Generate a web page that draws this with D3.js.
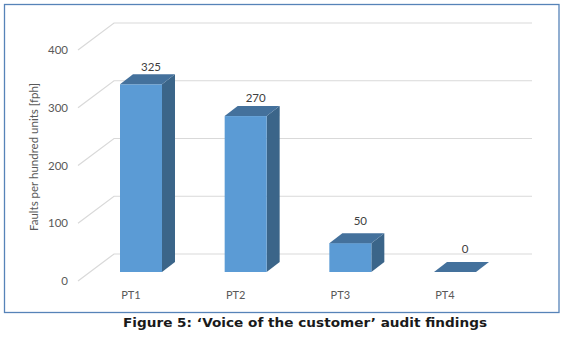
<!DOCTYPE html>
<html><head><meta charset="utf-8">
<script src="https://cdn.jsdelivr.net/npm/d3@7"></script>
<style>body{margin:0;background:#fff}svg{display:block}</style>
</head><body>
<script>
const categories = ["PT1", "PT2", "PT3", "PT4"];
const values = [325, 270, 50, 0];
const yTicks = [0, 100, 200, 300, 400];
const yTitle = "Faults per hundred units [fph]";
const caption = "Figure 5: \u2018Voice of the customer\u2019 audit findings";

const W = 567, H = 343;
const svg = d3.select("body").append("svg").attr("width", W).attr("height", H);

svg.append("rect").attr("x", 4.5).attr("y", 4.5).attr("width", 554.5).attr("height", 308)
  .attr("fill", "#fff").attr("stroke", "#5683b8").attr("stroke-width", 1.3);

const y = d3.scaleLinear().domain([0, 400]).range([281, 50]);
const yLab = d3.scaleLinear().domain([0, 400]).range([249, 25]);
const x = d3.scalePoint().domain(categories).range([141, 455]);
const depth = {dx: 36, dy: -27};
const barDepth = {dx: 13, dy: -10};
const barShift = -9;
const bw = 42;
const frontX = 78, backX = frontX + depth.dx, backRight = 532;

const grid = svg.append("g").attr("stroke", "#d9d9d9").attr("stroke-width", 1.2).attr("fill", "none");
yTicks.forEach(t => {
  const fy = y(t), by = fy + depth.dy;
  grid.append("path").attr("d", `M${frontX},${fy}L${backX},${by}L${backRight},${by}`);
});

svg.append("g").selectAll("text").data(yTicks).join("text")
  .attr("x", 68).attr("y", d => y(d)).attr("dy", "0.35em").attr("text-anchor", "end")
  .attr("font-family", "Lato, sans-serif").attr("font-size", 11.5).attr("fill", "#595959")
  .text(d => d);

svg.append("text").attr("transform", "translate(38,157) rotate(-90)")
  .attr("text-anchor", "middle").attr("font-family", "Lato, sans-serif").attr("font-size", 11.5)
  .attr("fill", "#595959").text(yTitle);

const bars = svg.append("g");
categories.forEach((c, i) => {
  const v = values[i];
  const x0 = x(c) - bw / 2, x1 = x0 + bw;
  const yb = y(0) + barShift, yt = y(v) + barShift;
  const dx = barDepth.dx, dy = barDepth.dy;
  if (v > 0) {
    bars.append("path").attr("d", `M${x1},${yt}L${x1+dx},${yt+dy}L${x1+dx},${yb+dy}L${x1},${yb}Z`)
      .attr("fill", "#3b6589");
    bars.append("rect").attr("x", x0).attr("y", yt).attr("width", bw).attr("height", yb - yt)
      .attr("fill", "#5b9bd5");
  }
  bars.append("path").attr("d", `M${x0},${yt}L${x0+dx},${yt+dy}L${x1+dx},${yt+dy}L${x1},${yt}Z`)
    .attr("fill", "#44719c");
});

svg.append("g").selectAll("text").data(values).join("text")
  .attr("x", (d, i) => x(categories[i]) + 10).attr("y", d => yLab(d)).attr("dy", "0.35em")
  .attr("text-anchor", "middle").attr("font-family", "Lato, sans-serif").attr("font-size", 11.5)
  .attr("fill", "#404040").text(d => d);

svg.append("g").selectAll("text").data(categories).join("text")
  .attr("x", d => x(d) - 10).attr("y", 295).attr("dy", "0.35em")
  .attr("text-anchor", "middle").attr("font-family", "Lato, sans-serif").attr("font-size", 11)
  .attr("fill", "#595959").text(d => d);

svg.append("text").attr("x", 305).attr("y", 323).attr("dy", "0.35em").attr("text-anchor", "middle")
  .attr("font-family", "DejaVu Sans, sans-serif").attr("font-weight", "bold").attr("font-size", 12.5)
  .attr("textLength", 364).attr("lengthAdjust", "spacingAndGlyphs")
  .attr("fill", "#1a1a1a").text(caption);
</script>
</body></html>
